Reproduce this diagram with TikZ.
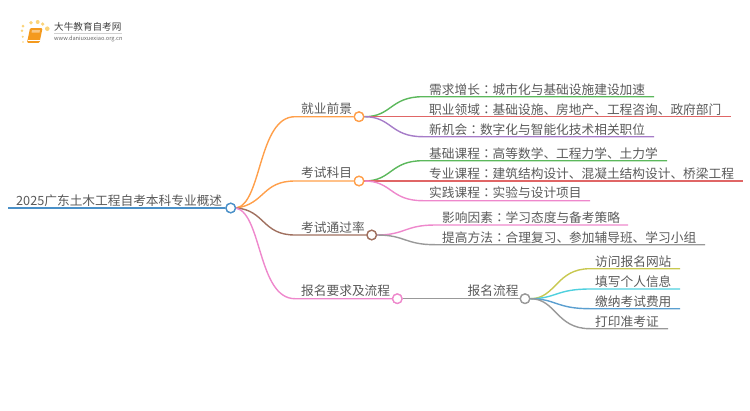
\documentclass[tikz,border=0pt]{standalone}
\usepackage{fontspec}
\setmainfont{Noto Sans CJK SC}
\newfontfamily\cjktc{Noto Sans CJK TC}
\newcommand{\cln}{{\cjktc ：}}
\definecolor{txt}{HTML}{5A5A5A}
\definecolor{cRoot}{HTML}{4A90C8}
\definecolor{cOrange}{HTML}{FF9F4A}
\definecolor{cBrown}{HTML}{A0705F}
\definecolor{cPink}{HTML}{EE88CC}
\definecolor{cGreen}{HTML}{5CB85C}
\definecolor{cRed}{HTML}{E06666}
\definecolor{cPurple}{HTML}{A67CC8}
\definecolor{cGray}{HTML}{999999}
\definecolor{cOlive}{HTML}{C8C850}
\definecolor{cCyan}{HTML}{4FD0DE}
\definecolor{cBlue}{HTML}{5B9FD0}
\definecolor{cBook}{HTML}{F49A1E}
\definecolor{cDot}{HTML}{FBD47A}
\tikzset{
  lab/.style={anchor=base west,inner sep=0pt,text=txt,font=\fontsize{12.7}{14}\selectfont},
  hub/.style={circle,draw=#1,fill=white,line width=1.3pt,minimum size=9.5pt,inner sep=0pt},
  wire/.style={draw=#1,line width=1.4pt},
  dot/.style={circle,fill=cDot,inner sep=0pt,minimum size=#1}
}
\begin{document}
\begin{tikzpicture}[x=1pt,y=-1pt]
\useasboundingbox (0,0) rectangle (750,410);
% logo
\foreach \x/\y/\s in {23/26/3pt,31/22.7/3.6pt,37.7/22/4pt,42.7/24/3.6pt,47.3/28.7/4.6pt,22/30.7/2.6pt,22.7/36.7/2.2pt,23/42/1.6pt}
  \node[dot=\s] at (\x,\y) {};
\fill[cBook,rounded corners=1pt] (30,28.2) -- (42.5,28.2) -- (39.5,42.8) -- (27,42.8) -- cycle;
\fill[white,opacity=.45] (32,30.2) -- (40,30.2) -- (39.5,32.6) -- (31.5,32.6) -- cycle;
\draw[white,line width=.6pt] (28.4,40.6) -- (39.6,40.6);
\node[anchor=base west,inner sep=0pt,text=black!75,font=\fontsize{9.6}{11}\selectfont] (brand) at (54,30) {大牛教育自考网};
\node[anchor=base west,inner sep=0pt,text=black!60,font=\fontsize{5.65}{6}\selectfont] (url) at (54,40.7) {www.daniuxuexiao.org.cn};
\draw[black!18,line width=.4pt] (54,33.4) -- (122,33.4);

% hubs (positions)
\coordinate (rootstart) at (8,208);
\node[hub=cRoot] (root) at (230.7,208) {};
\node[hub=cOrange] (h1) at (359,116.7) {};
\node[hub=cOrange] (h2) at (359,181) {};
\node[hub=cBrown]  (h3) at (371.7,235) {};
\node[hub=cPink]   (h4) at (397.3,298.7) {};
\node[hub=cGray]   (h5) at (525,298.7) {};

\coordinate (b1) at (295,116.7);
\coordinate (b2) at (295,181);
\coordinate (b3) at (295,235);
\coordinate (b4) at (295,298.7);

\foreach \n/\x/\y/\e in {a1/423/96.7/654,a2/423/116.7/730.7,a3/423/136.7/654,c1/423/160.7/667,c2/423/181/743,c3/423/200.7/590,d1/435/225/628,d2/435/244.7/705,e1/590/268.7/680,e2/590/289/680,e3/590/308.7/680,e4/590/328.7/668}{
  \coordinate (\n) at (\x,\y);
  \coordinate (\n e) at (\e,\y);
}

% root stem
\draw[wire=cRoot,line width=1.8pt] (rootstart) -- (root);
% first level
\draw[wire=cOrange] (root.east) .. controls (262,204) and (258,116.7) .. (b1) -- (h1);
\draw[wire=cOrange] (root.east) .. controls (265,204) and (262,181) .. (b2) -- (h2);
\draw[wire=cBrown]  (root.east) .. controls (265,210) and (262,235) .. (b3) -- (h3);
\draw[wire=cPink]   (root.east) .. controls (262,214) and (258,298.7) .. (b4) -- (h4);
% second level
\draw[wire=cGreen]  (h1.east) .. controls (392,116.7) and (390,96.7) .. (a1) -- (a1e);
\draw[wire=cRed]    (h1.east) -- (a2) -- (a2e);
\draw[wire=cPurple] (h1.east) .. controls (392,116.7) and (390,136.7) .. (a3) -- (a3e);
\draw[wire=cGreen]  (h2.east) .. controls (392,181) and (390,160.7) .. (c1) -- (c1e);
\draw[wire=cRed]    (h2.east) -- (c2) -- (c2e);
\draw[wire=cPink]   (h2.east) .. controls (392,181) and (390,200.7) .. (c3) -- (c3e);
\draw[wire=cPink]   (h3.east) .. controls (405,235) and (405,225) .. (d1) -- (d1e);
\draw[wire=cGray]   (h3.east) .. controls (405,235) and (405,244.7) .. (d2) -- (d2e);
\draw[wire=cGray]   (h4) -- (h5);
\draw[wire=cOlive]  (h5.east) .. controls (556,298.7) and (556,268.7) .. (e1) -- (e1e);
\draw[wire=cCyan]   (h5.east) .. controls (556,298.7) and (556,289) .. (e2) -- (e2e);
\draw[wire=cBlue]   (h5.east) .. controls (556,298.7) and (556,308.7) .. (e3) -- (e3e);
\draw[wire=cGray]   (h5.east) .. controls (556,298.7) and (556,328.7) .. (e4) -- (e4e);
% redraw hubs on top
\foreach \n/\c/\x/\y in {root/cRoot/230.7/208,h1/cOrange/359/116.7,h2/cOrange/359/181,h3/cBrown/371.7/235,h4/cPink/397.3/298.7,h5/cGray/525/298.7}
  \node[hub=\c] (\n) at (\x,\y) {};

% labels
\node[lab] (t0) at (16,205) {2025广东土木工程自考本科专业概述};
\node[lab] (t1) at (301,113) {就业前景};
\node[lab] (t2) at (301,177) {考试科目};
\node[lab] (t3) at (301,232) {考试通过率};
\node[lab] (t4) at (301,295) {报名要求及流程};
\node[lab] (t5) at (467.5,295) {报名流程};
\node[lab] (ta1) at (429,94) {需求增长\cln 城市化与基础设施建设加速};
\node[lab] (ta2) at (429,114) {职业领域\cln 基础设施、房地产、工程咨询、政府部门};
\node[lab] (ta3) at (429,134) {新机会\cln 数字化与智能化技术相关职位};
\node[lab] (tc1) at (429,158) {基础课程\cln 高等数学、工程力学、土力学};
\node[lab] (tc2) at (429,178) {专业课程\cln 建筑结构设计、混凝土结构设计、桥梁工程};
\node[lab] (tc3) at (429,197) {实践课程\cln 实验与设计项目};
\node[lab] (td1) at (442,222) {影响因素\cln 学习态度与备考策略};
\node[lab] (td2) at (442,242) {提高方法\cln 合理复习、参加辅导班、学习小组};
\node[lab] (te1) at (595,266) {访问报名网站};
\node[lab] (te2) at (595,286) {填写个人信息};
\node[lab] (te3) at (595,306) {缴纳考试费用};
\node[lab] (te4) at (595,326) {打印准考证};
\end{tikzpicture}
\end{document}
